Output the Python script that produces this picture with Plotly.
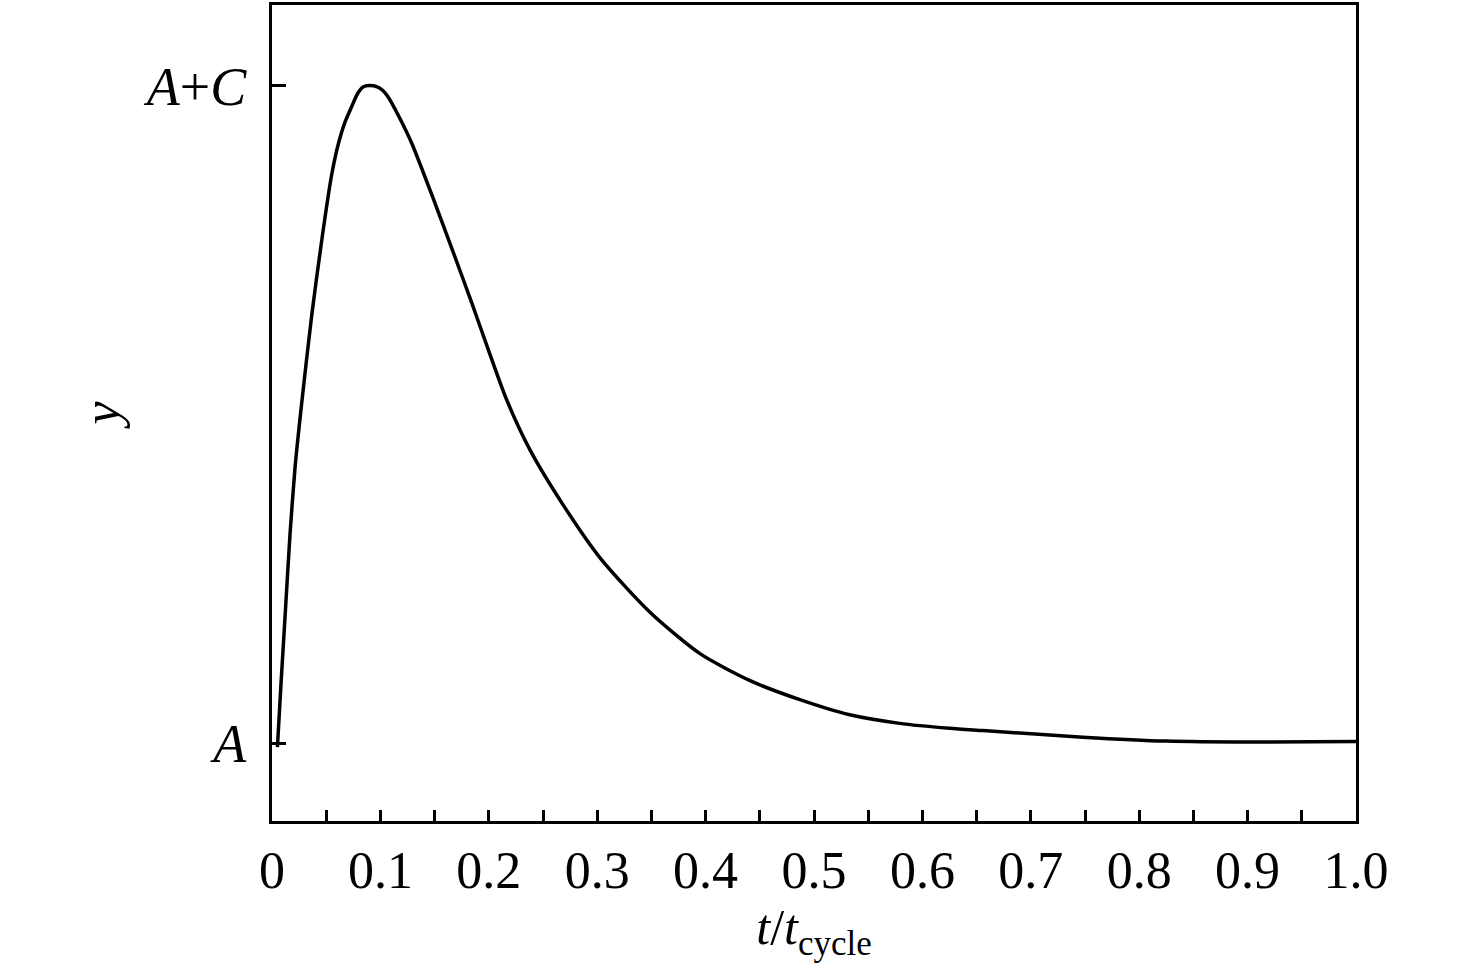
import plotly.graph_objects as go

# Curve (y in units where A = 0, A+C = 1).
t_ratio = [0.005, 0.0083, 0.012, 0.0166, 0.0212, 0.0266, 0.0366, 0.046, 0.055,
           0.061, 0.067, 0.0735, 0.079, 0.084, 0.090, 0.097, 0.102, 0.107,
           0.118, 0.129, 0.1504, 0.1673, 0.1842, 0.1996, 0.2165, 0.238,
           0.2687, 0.303, 0.3487, 0.3948, 0.441, 0.487, 0.533, 0.579,
           0.625, 0.656, 0.748, 0.825, 0.902, 1.0]
y_norm = [-0.006, 0.090, 0.191, 0.317, 0.418, 0.505, 0.650, 0.766, 0.864,
          0.910, 0.943, 0.968, 0.988, 0.998, 1.000, 0.998, 0.993, 0.983,
          0.950, 0.912, 0.821, 0.746, 0.670, 0.598, 0.522, 0.446,
          0.362, 0.281, 0.199, 0.136, 0.095, 0.066, 0.043, 0.030,
          0.0225, 0.019, 0.009, 0.003, 0.0015, 0.0025]

x_tickvals = [0, 0.1, 0.2, 0.3, 0.4, 0.5, 0.6, 0.7, 0.8, 0.9, 1.0]
x_ticktext = ["0", "0.1", "0.2", "0.3", "0.4", "0.5", "0.6", "0.7", "0.8", "0.9", "1.0"]
y_tickvals = [0, 1]
y_ticktext = ["<i>A</i>", "<i>A</i>+<i>C</i>"]

fig = go.Figure()
fig.add_trace(go.Scatter(x=t_ratio, y=y_norm, mode="lines",
                         line=dict(color="black", width=3.5, shape="spline", smoothing=0.7),
                         showlegend=False))

fig.update_layout(
    width=1476, height=976,
    margin=dict(l=272, r=120, t=2, b=155),
    plot_bgcolor="white", paper_bgcolor="white",
    font=dict(family="Liberation Serif", size=52, color="black"),
)

fig.update_xaxes(
    range=[0, 1.0], tickvals=x_tickvals, ticktext=x_ticktext,
    ticks="inside", ticklen=11, tickwidth=2.5, tickcolor="black",
    minor=dict(dtick=0.05, tick0=0, ticks="inside", ticklen=11, tickwidth=2.5, tickcolor="black"),
    showline=True, linewidth=3, linecolor="black", mirror=True,
    showgrid=False, zeroline=False, ticklabelstandoff=2,
    title=dict(text="<i>t</i>/<i>t</i><sub>cycle</sub>", font=dict(size=50), standoff=0),
)
fig.update_yaxes(
    range=[-0.1185, 1.1226], tickvals=y_tickvals, ticktext=y_ticktext,
    tickfont=dict(size=54),
    ticks="inside", ticklen=14, tickwidth=2.5, tickcolor="black",
    showline=True, linewidth=3, linecolor="black", mirror=True,
    showgrid=False, zeroline=False, ticklabelstandoff=12,
    title=dict(text="<i>y</i>", font=dict(size=52), standoff=8),
)

# drop the page's default 8px body margin so the figure sits at the window corner
fig.write_html("out.html", config={"displayModeBar": False},
               post_script="document.body.style.margin='0px';")
